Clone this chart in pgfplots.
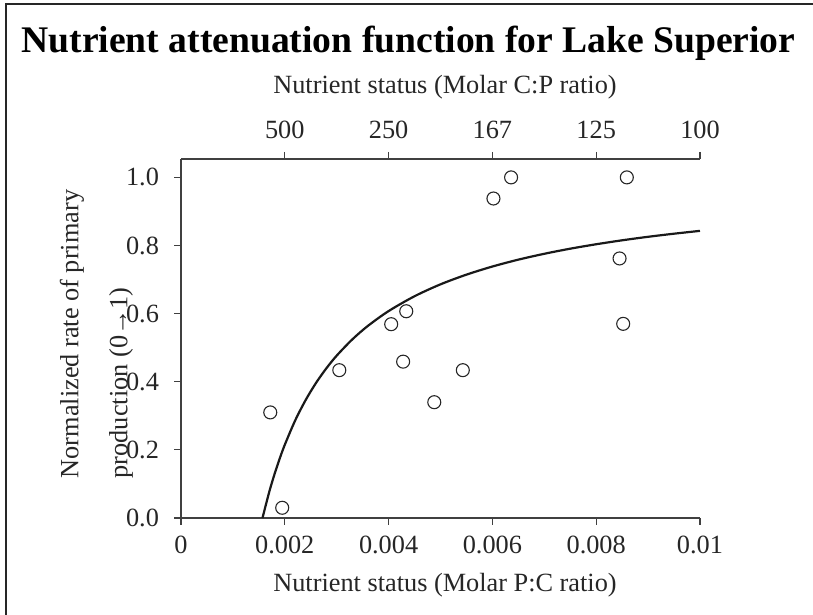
\documentclass[border=0pt]{standalone}
\usepackage{fontspec}
\setmainfont{Liberation Serif}
\usepackage{pgfplots}
\pgfplotsset{compat=1.18}
\begin{document}
\begin{tikzpicture}
\useasboundingbox (0pt,0pt) rectangle (406.5pt,307.5pt);
\draw[line width=1pt, color=black!85] (3pt,0pt) -- (3pt,305.5pt) -- (406.5pt,305.5pt);
\node[anchor=base, font=\fontsize{18.8}{22}\selectfont\bfseries] at (204.25pt,281pt) {Nutrient attenuation function for Lake Superior};
\begin{axis}[
  at={(90.5pt,48.5pt)}, anchor=south west, scale only axis,
  width=259.5pt, height=179.5pt,
  xmin=0, xmax=0.01, ymin=0, ymax=1.054,
  scaled x ticks=false, scaled y ticks=false,
  axis x line*=bottom, axis y line*=left,
  axis line style={-, color=black!75, line width=0.6pt},
  tick style={color=black!75, line width=0.6pt},
  tick align=outside, major tick length=3.5pt,
  xtick={0,0.002,0.004,0.006,0.008,0.01},
  xticklabels={0,0.002,0.004,0.006,0.008,0.01},
  ytick={0,0.2,0.4,0.6,0.8,1.0},
  yticklabels={0.0,0.2,0.4,0.6,0.8,1.0},
  ticklabel style={font=\fontsize{13.15}{16}\selectfont, text=black!85},
  xticklabel style={yshift=-2pt},
  yticklabel style={xshift=-4pt},
  label style={font=\fontsize{13.15}{17.5}\selectfont, text=black!85},
  xlabel={Nutrient status (Molar P:C ratio)},
  xlabel style={at={(axis description cs:0.5,0)}, anchor=base, yshift=-37pt, xshift=2.25pt},
  ylabel={Normalized rate of primary\\[7pt]production (0\textrightarrow1)},
  ylabel style={align=left, at={(axis description cs:-0.2341,0.5125)}, anchor=north, inner sep=0pt},
  clip=false,
]
\addplot[only marks, mark=o, mark size=3.25pt, mark options={line width=0.55pt, draw=black!85}] coordinates {
(0.00172,0.31)
(0.00195,0.03)
(0.00305,0.434)
(0.00405,0.569)
(0.00434,0.607)
(0.00428,0.459)
(0.00488,0.34)
(0.00543,0.434)
(0.00602,0.938)
(0.00636,1.0)
(0.00859,1.0)
(0.00845,0.762)
(0.00852,0.57)
};
\addplot[no marks, line width=1.1pt, color=black!90, smooth] coordinates {
(0.00157,0)
(0.0017,0.0765)
(0.0018,0.1278)
(0.0019,0.1737)
(0.002,0.215)
(0.0022,0.2864)
(0.0024,0.3458)
(0.0026,0.3962)
(0.0028,0.4393)
(0.003,0.4767)
(0.0033,0.5242)
(0.0036,0.5639)
(0.004,0.6075)
(0.0045,0.6511)
(0.005,0.686)
(0.0055,0.7145)
(0.006,0.7383)
(0.0065,0.7585)
(0.007,0.7757)
(0.0075,0.7907)
(0.008,0.8037)
(0.0085,0.8153)
(0.009,0.8256)
(0.0095,0.8347)
(0.01,0.843)
};
\end{axis}
\begin{axis}[
  at={(90.5pt,48.5pt)}, anchor=south west, scale only axis,
  width=259.5pt, height=179.5pt,
  xmin=0, xmax=0.01, ymin=0, ymax=1.054,
  scaled x ticks=false,
  axis x line*=top, axis y line=none,
  axis line style={-, color=black!75, line width=0.6pt},
  tick style={color=black!75, line width=0.6pt},
  tick align=outside, major tick length=3.5pt,
  xtick={0.002,0.004,0.006,0.008,0.01},
  xticklabels={500,250,167,125,100},
  ticklabel style={font=\fontsize{13.15}{16}\selectfont, text=black!85},
  xticklabel style={yshift=3pt},
  label style={font=\fontsize{13.15}{17.5}\selectfont, text=black!85},
  xlabel={Nutrient status (Molar C:P ratio)},
  xlabel style={at={(axis description cs:0.5,1)}, anchor=base, yshift=32.5pt, xshift=2.25pt},
]
\addplot[draw=none] coordinates {(0,0)};
\end{axis}
\end{tikzpicture}
\end{document}
